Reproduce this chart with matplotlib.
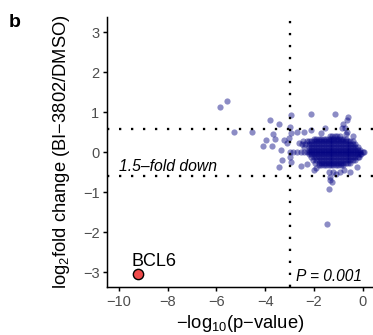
import matplotlib
matplotlib.use("Agg")
import matplotlib.pyplot as plt

plt.rcParams['font.family'] = ['Liberation Sans', 'DejaVu Sans']
plt.rcParams['mathtext.fontset'] = 'custom'
plt.rcParams['mathtext.rm'] = 'Liberation Sans'
plt.rcParams['mathtext.it'] = 'Liberation Sans:italic'

# scattered genes (-log10 p, log2 fold change)
outlier_x = [-5.86, -5.56, -5.29, -4.53, -3.81, -3.44, -2.93, -2.14, -1.12, -0.59,
             -0.80, -0.72, -0.66, -0.65, -0.70, -3.67, -3.96, -4.10, -3.71, -3.61,
             -3.23, -2.96, -2.70, -2.42, -3.10, -3.37, -3.00, -3.03, -2.63, -2.14,
             -1.55, -0.86, -3.30, -3.44, -2.97, -2.96, -2.55, -2.00, -1.32, -1.25,
             -1.39, -1.32, -0.93, -0.52, -0.25, -1.46, -1.20, -1.40, -1.10, -0.75,
             -1.70, -0.40, -2.30, -1.90]
outlier_y = [1.14, 1.28, 0.50, 0.52, 0.82, 0.72, 0.94, 0.97, 0.97, 0.89,
             0.72, 0.60, 0.80, 0.50, 0.45, 0.45, 0.31, 0.17, 0.17, 0.33,
             0.31, 0.48, 0.52, 0.52, 0.23, 0.06, 0.64, 0.35, 0.23, 0.56,
             0.60, 0.60, -0.20, -0.37, -0.12, -0.23, -0.34, -0.44, -0.61, -0.73,
             -0.92, -0.69, -0.48, -0.48, -0.36, -1.79, -0.50, -0.50, -0.55, -0.45,
             0.48, 0.42, -0.30, -0.40]

# dense body of the cloud, one list of x values per row of y
core_y = [0.40, 0.34, 0.28, 0.21, 0.14, 0.07, 0.01, -0.05, -0.12, -0.19, -0.26, -0.32]
core_x = [
    [-1.35, -1.25, -1.15, -1.05, -0.95],
    [-2.0, -1.9, -1.8, -1.7, -1.6, -1.5, -1.4, -1.3, -1.2, -1.1, -1.0, -0.9, -0.8, -0.7],
    [-2.45, -2.3, -2.2, -2.1, -2.0, -1.9, -1.8, -1.7, -1.6, -1.5, -1.4, -1.3, -1.2, -1.1,
     -1.0, -0.9, -0.8, -0.7, -0.6, -0.5, -0.4],
    [-2.5, -2.35, -2.2, -2.1, -2.0, -1.9, -1.8, -1.7, -1.6, -1.5, -1.4, -1.3, -1.2, -1.1,
     -1.0, -0.9, -0.8, -0.7, -0.6, -0.5, -0.4, -0.3],
    [-2.4, -2.2, -2.1, -2.0, -1.9, -1.8, -1.7, -1.6, -1.5, -1.4, -1.3, -1.2, -1.1, -1.0,
     -0.9, -0.8, -0.7, -0.6, -0.5, -0.4, -0.3, -0.2],
    [-2.2, -2.1, -2.0, -1.9, -1.8, -1.7, -1.6, -1.5, -1.4, -1.3, -1.2, -1.1, -1.0, -0.9,
     -0.8, -0.7, -0.6, -0.5, -0.4, -0.3, -0.2, -0.1],
    [-3.0, -2.85, -2.7, -2.55, -2.4, -2.3, -2.2, -2.1, -2.0, -1.9, -1.8, -1.7, -1.6, -1.5,
     -1.4, -1.3, -1.2, -1.1, -1.0, -0.9, -0.8, -0.7, -0.6, -0.5, -0.4, -0.3, -0.2, -0.1,
     0.0, 0.05],
    [-2.2, -2.1, -2.0, -1.9, -1.8, -1.7, -1.6, -1.5, -1.4, -1.3, -1.2, -1.1, -1.0, -0.9,
     -0.8, -0.7, -0.6, -0.5, -0.4, -0.3, -0.2, -0.1, -0.05],
    [-2.1, -2.0, -1.9, -1.8, -1.7, -1.6, -1.5, -1.4, -1.3, -1.2, -1.1, -1.0, -0.9, -0.8,
     -0.7, -0.6, -0.5, -0.4, -0.3, -0.2, -0.15],
    [-2.05, -1.9, -1.8, -1.7, -1.6, -1.5, -1.4, -1.3, -1.2, -1.1, -1.0, -0.9, -0.8, -0.7,
     -0.6, -0.5, -0.4, -0.3],
    [-1.95, -1.8, -1.7, -1.6, -1.5, -1.4, -1.3, -1.2, -1.1, -1.0, -0.9, -0.8, -0.7, -0.6, -0.5],
    [-1.8, -1.7, -1.6, -1.5, -1.4, -1.3, -1.2, -1.1, -1.0, -0.9, -0.8],
]

hit_name = "BCL6"
hit_x = -9.22
hit_y = -3.05

fold_cut = 0.585   # log2(1.5)
p_cut = -3         # log10(0.001)

x_ticks = [-10, -8, -6, -4, -2, 0]
y_ticks = [-3, -2, -1, 0, 1, 2, 3]

gene_x = list(outlier_x)
gene_y = list(outlier_y)
for yv, row in zip(core_y, core_x):
    gene_x += row
    gene_y += [yv] * len(row)

fig = plt.figure(figsize=(3.73, 3.35), dpi=100)
ax = fig.add_axes([0.286, 0.1418, 0.719, 0.807])

ax.scatter(gene_x, gene_y, s=20, color='#000080', alpha=0.45, linewidths=0, zorder=2)
ax.scatter([hit_x], [hit_y], s=55, color='#EF4A4A', edgecolors='black', linewidths=1.0, zorder=4)

dots = (0, (1, 4.2))
for yv in (fold_cut, -fold_cut):
    ax.axhline(yv, color='black', lw=1.66, ls=dots, dash_capstyle='butt', zorder=3)
ax.axvline(p_cut, color='black', lw=1.66, ls=dots, dash_capstyle='butt', zorder=3)

ax.text(-10.0, -0.46, '1.5\u2013fold down', fontsize=11.3, style='italic', va='baseline', ha='left')
ax.text(-2.75, -3.21, 'P = 0.001', fontsize=11.2, style='italic', va='baseline', ha='left')
ax.text(-8.55, -2.83, hit_name, fontsize=13, va='baseline', ha='center')

ax.set_xlim(-10.5, 0.5)
ax.set_ylim(-3.38, 3.38)
ax.set_xticks(x_ticks)
ax.set_yticks(y_ticks)
for side in ('top', 'right'):
    ax.spines[side].set_visible(False)
for side in ('left', 'bottom'):
    ax.spines[side].set_linewidth(1.07)
ax.tick_params(length=2.75, width=1.07, color='black', labelcolor='#4D4D4D',
               labelsize=10.5, pad=2.5)

fig.text(62 / 373, 1 - 152 / 335, 'log$_{2}$fold change (BI\u22123802/DMSO)',
         rotation=90, fontsize=13.2, ha='center', va='center')
fig.text(240 / 373, 1 - 323 / 335, '\u2212log$_{10}$(p\u2212value)',
         fontsize=13.2, ha='center', va='center')
fig.text(9 / 373, 1 - 27 / 335, 'b', fontsize=14, fontweight='bold', ha='left', va='baseline')

fig.savefig('out.png', dpi=100)
